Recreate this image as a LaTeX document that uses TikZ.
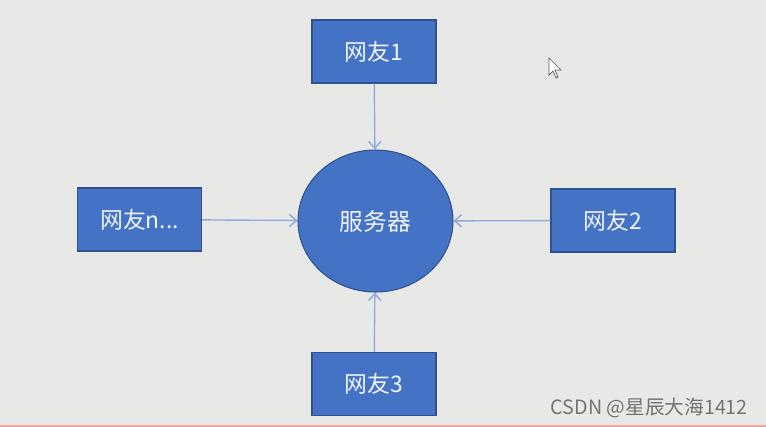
\documentclass[tikz,border=0pt]{standalone}
\usepackage{fontspec}
\setmainfont{Noto Sans CJK SC}
\usetikzlibrary{arrows.meta,shapes.geometric}
\definecolor{bg}{HTML}{E8E9E7}
\definecolor{boxfill}{HTML}{4472C4}
\definecolor{boxline}{HTML}{2F528F}
\definecolor{linkcol}{HTML}{8FAADC}
\definecolor{edgecol}{HTML}{F0A89E}

\begin{document}
\begin{tikzpicture}[>={Straight Barb[length=4pt,width=7pt]},
  user/.style={draw=boxline,fill=boxfill,line width=0.6pt,minimum width=2.48cm,minimum height=1.26cm,
    text=white!92!boxfill,font=\fontsize{13}{15}\selectfont},
  server/.style={ellipse,draw=boxline,fill=boxfill,line width=0.6pt,minimum width=3.1cm,minimum height=2.84cm,
    inner sep=0pt,text=white!92!boxfill,font=\fontsize{13.5}{16}\selectfont},
  link/.style={->,draw=linkcol,line width=0.8pt}]
  \fill[bg] (0,0) rectangle (15.32,-8.54);
  \useasboundingbox (0,0) rectangle (15.32,-8.54);
  \fill[edgecol] (0,-8.49) rectangle (15.32,-8.54);
  \node[server] (srv) at (7.51,-4.42) {服务器};
  \node[user] (u1) at (7.48,-1.03) {网友1};
  \node[user] (u2) at (12.26,-4.41) {网友2};
  \node[user] (u3) at (7.48,-7.68) {网友3};
  \node[user] (un) at (2.79,-4.39) {网友n...};
  \draw[link] (u1) -- (srv);
  \draw[link] (u2) -- (srv);
  \draw[link] (u3) -- (srv);
  \draw[link] (un) -- (srv);
  % mouse pointer
  \filldraw[fill=white,draw=black!65,line width=0.4pt] (10.98,-1.16) -- (10.98,-1.5) -- (11.06,-1.42)
    -- (11.12,-1.56) -- (11.16,-1.54) -- (11.1,-1.4) -- (11.22,-1.4) -- cycle;
  % watermark
  \node[text=black!55,font=\fontsize{11.2}{13}\selectfont,anchor=east] (wm) at (15.08,-8.15) {CSDN @星辰大海1412};
\end{tikzpicture}
\end{document}
